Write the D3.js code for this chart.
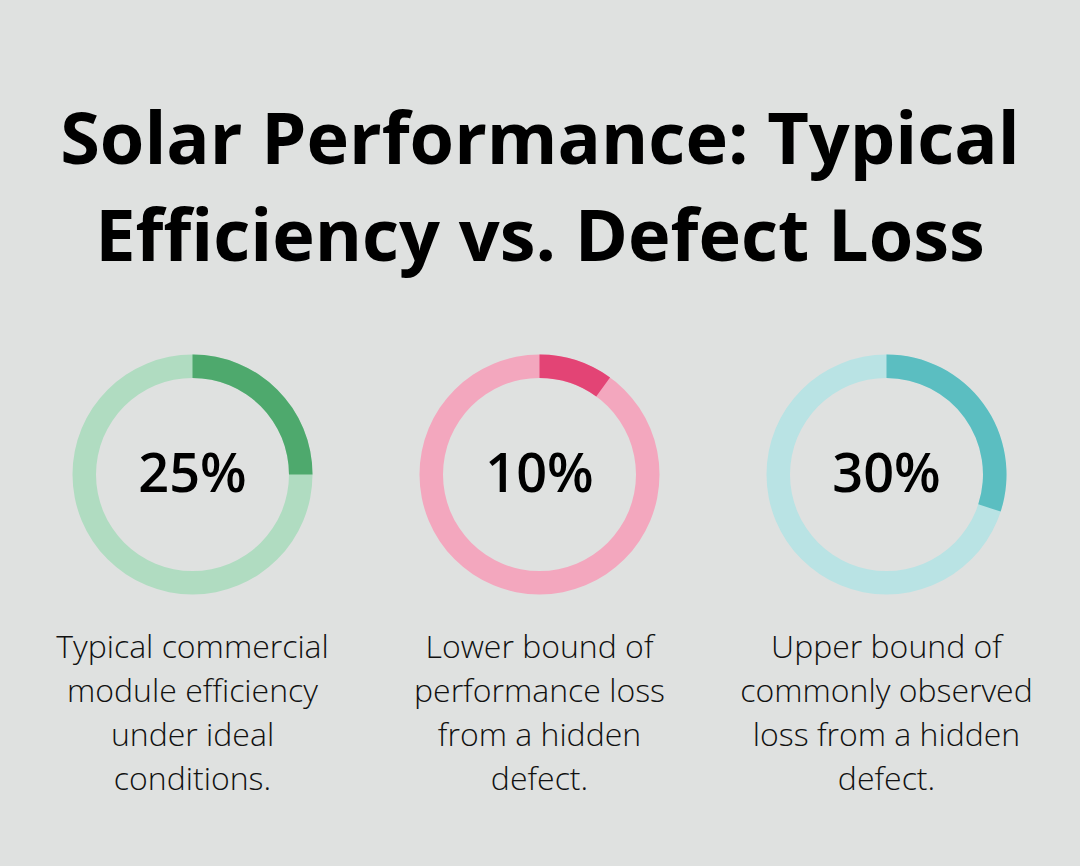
<!DOCTYPE html>
<html>
<head>
<meta charset="utf-8">
<script src="https://cdn.jsdelivr.net/npm/d3@7.9.0/dist/d3.min.js"></script>
<style>
  html, body { margin: 0; padding: 0; background: #dfe1e0; }
  svg { display: block; font-family: "Open Sans", sans-serif; }
</style>
</head>
<body>
<svg id="chart" width="1080" height="866"></svg>
<script>
const titleLines = ['Solar Performance: Typical', 'Efficiency vs. Defect Loss'];
const labels = ['25%', '10%', '30%'];
const values = [25, 10, 30];
const descriptions = [
  ['Typical commercial', 'module efficiency', 'under ideal', 'conditions.'],
  ['Lower bound of', 'performance loss', 'from a hidden', 'defect.'],
  ['Upper bound of', 'commonly observed', 'loss from a hidden', 'defect.']
];
const fgColors = ['#4ea96d', '#e34475', '#5bbec1'];
const bgColors = ['#b0dcc1', '#f3a7be', '#b9e3e4'];

const svg = d3.select('#chart');
const width = 1080;

svg.append('rect').attr('width', width).attr('height', 866).attr('fill', '#dfe1e0');

// title
svg.append('g')
  .selectAll('text')
  .data(titleLines)
  .join('text')
  .attr('x', width / 2)
  .attr('y', (d, i) => 164 + i * 97)
  .attr('text-anchor', 'middle')
  .attr('font-size', 72)
  .attr('font-weight', 700)
  .attr('fill', '#000')
  .text(d => d);

const x = d3.scalePoint().domain(d3.range(values.length)).range([192.5, 886.5]);
const angle = d3.scaleLinear().domain([0, 100]).range([0, 2 * Math.PI]);
const arc = d3.arc().innerRadius(96.5).outerRadius(120);
const cy = 474.5;

values.forEach((v, i) => {
  const g = svg.append('g').attr('transform', `translate(${x(i)},${cy})`);
  g.append('path')
    .attr('d', arc({ startAngle: 0, endAngle: 2 * Math.PI }))
    .attr('fill', bgColors[i]);
  g.append('path')
    .attr('d', arc({ startAngle: 0, endAngle: angle(v) }))
    .attr('fill', fgColors[i]);
  g.append('text')
    .attr('y', 17)
    .attr('text-anchor', 'middle')
    .attr('font-size', 54)
    .attr('font-weight', 600)
    .attr('fill', '#000')
    .text(labels[i]);

  svg.append('g')
    .selectAll('text')
    .data(descriptions[i])
    .join('text')
    .attr('x', x(i))
    .attr('y', (d, j) => 658 + j * 44)
    .attr('text-anchor', 'middle')
    .attr('font-size', 32)
    .attr('font-weight', 300)
    .attr('fill', '#111')
    .text(d => d);
});
</script>
</body>
</html>
